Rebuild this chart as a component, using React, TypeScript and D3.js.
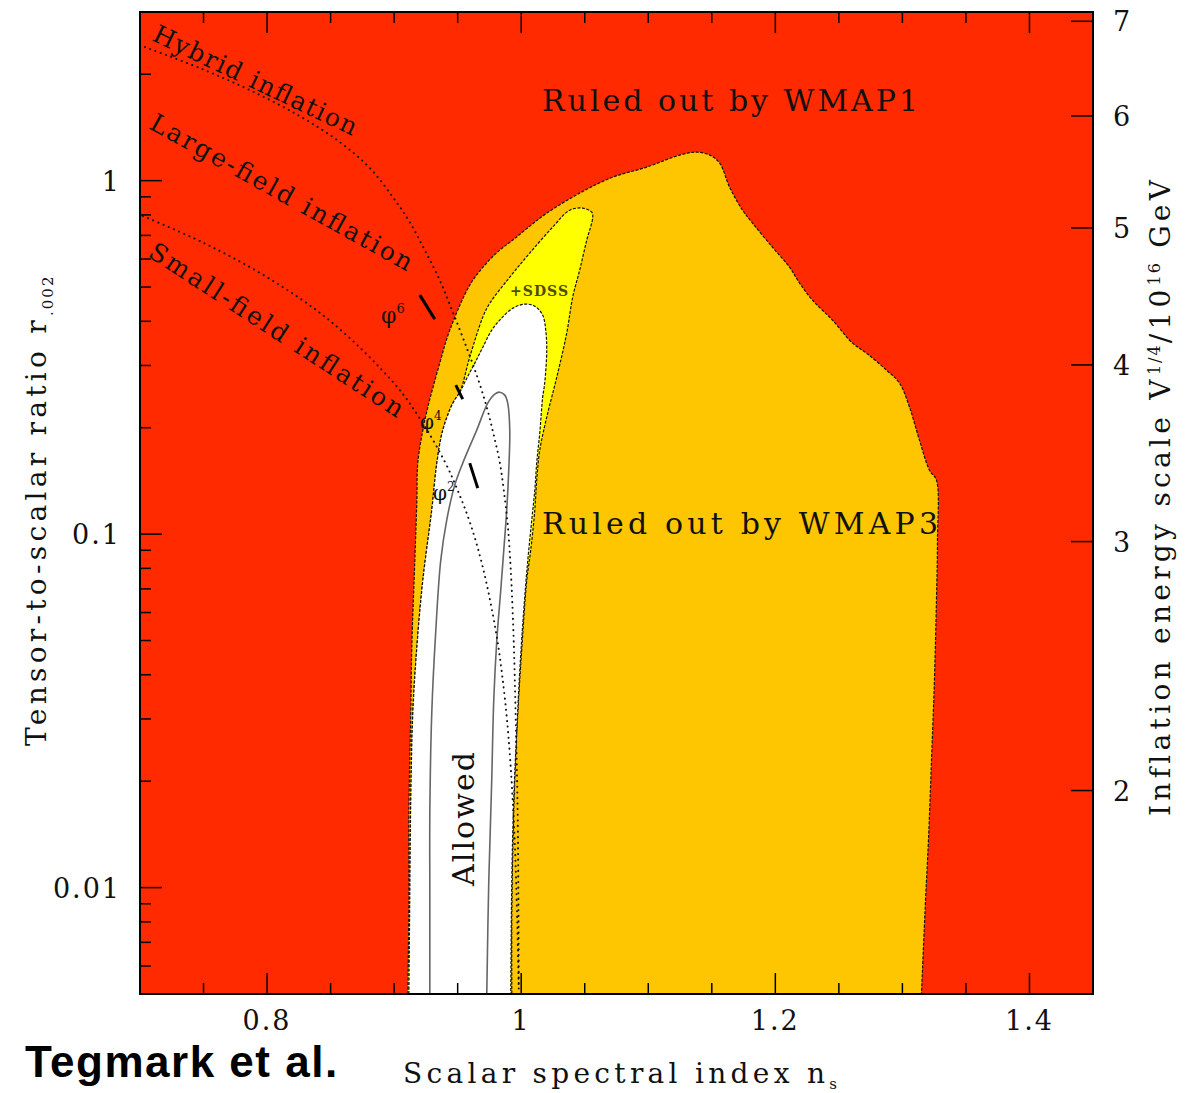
import React from 'react';
import * as d3 from 'd3';

// axis ticks
const nsMajor = [0.8, 1, 1.2, 1.4];
const nsMajorLabels = ['0.8', '1', '1.2', '1.4'];
const nsMinor = [0.75, 0.85, 0.9, 0.95, 1.05, 1.1, 1.15, 1.25, 1.3, 1.35];
const rMajor = [0.01, 0.1, 1];
const rMajorLabels = ['0.01', '0.1', '1'];
const rMinor = [0.006, 0.007, 0.008, 0.009, 0.02, 0.03, 0.04, 0.05, 0.06, 0.07, 0.08, 0.09,
  0.2, 0.3, 0.4, 0.5, 0.6, 0.7, 0.8, 0.9, 2];
const energyTicks = [2, 3, 4, 5, 6, 7];

// contours, [n_s, r]
const wmap1 = [
  [0.9108, 0.005], [0.9116, 0.0092], [0.9116, 0.0163], [0.9131, 0.0311], [0.9139, 0.0479],
  [0.9163, 0.0844], [0.9179, 0.1248], [0.9186, 0.1588], [0.9226, 0.1969], [0.9265, 0.2287],
  [0.9359, 0.3046], [0.9438, 0.3777], [0.9595, 0.5062], [0.9713, 0.5768], [0.9831, 0.636],
  [0.9934, 0.679], [1.0067, 0.7434], [1.0201, 0.809], [1.046, 0.922], [1.072, 1.023],
  [1.0987, 1.092], [1.1247, 1.181], [1.138, 1.204], [1.1484, 1.181], [1.1562, 1.121],
  [1.164, 0.9585], [1.1742, 0.825], [1.1821, 0.758], [1.1978, 0.648], [1.2112, 0.569],
  [1.2191, 0.5129], [1.2293, 0.459], [1.245, 0.403], [1.2608, 0.3469], [1.2718, 0.325],
  [1.2875, 0.291], [1.2977, 0.2675], [1.3056, 0.2287], [1.3134, 0.1845], [1.3213, 0.1517],
  [1.3268, 0.1421], [1.3276, 0.0962], [1.3268, 0.065], [1.3252, 0.0386], [1.3229, 0.0229],
  [1.3205, 0.0136], [1.3182, 0.0092], [1.315, 0.005],
];
const wmap3 = [
  [0.9116, 0.005], [0.9123, 0.0092], [0.9131, 0.0177], [0.9147, 0.0311], [0.9179, 0.0479],
  [0.9226, 0.0741], [0.9296, 0.1169], [0.9336, 0.1588], [0.9383, 0.1969], [0.9462, 0.2347],
  [0.9517, 0.2521], [0.9595, 0.3167], [0.9698, 0.411], [0.9753, 0.45], [0.991, 0.5333],
  [1.0067, 0.6236], [1.0248, 0.739], [1.0382, 0.825], [1.0484, 0.836], [1.0555, 0.8144],
  [1.0563, 0.788], [1.0516, 0.679], [1.046, 0.558], [1.0405, 0.468], [1.0358, 0.37],
  [1.028, 0.278], [1.0201, 0.2143], [1.0146, 0.1728], [1.0122, 0.1421], [1.0107, 0.1169],
  [1.0075, 0.0901], [1.0044, 0.0741], [1.0004, 0.047], [0.9973, 0.0311], [0.9949, 0.0201],
  [0.9934, 0.0128], [0.9926, 0.0081], [0.9926, 0.005],
];
const sdss = [
  [0.9116, 0.005], [0.9123, 0.0092], [0.9131, 0.0177], [0.9147, 0.0311], [0.9179, 0.0479],
  [0.9226, 0.0741], [0.9296, 0.1169], [0.9336, 0.1588], [0.9383, 0.1969], [0.9462, 0.2347],
  [0.9517, 0.2521], [0.9572, 0.2762], [0.9635, 0.3046], [0.9698, 0.338], [0.9768, 0.3777],
  [0.9831, 0.403], [0.9934, 0.4358], [1.0028, 0.4473], [1.0107, 0.4415], [1.0169, 0.4165],
  [1.0193, 0.3777], [1.0201, 0.3316], [1.0185, 0.2675], [1.0169, 0.244], [1.0146, 0.1931],
  [1.0122, 0.1588], [1.0107, 0.1332], [1.0083, 0.1096], [1.0052, 0.0844], [1.002, 0.061],
  [0.9989, 0.0412], [0.9965, 0.0279], [0.9941, 0.0177], [0.9926, 0.0105], [0.9918, 0.005],
];
const innerContour = [
  [0.9281, 0.005], [0.9281, 0.0092], [0.9281, 0.0163], [0.9296, 0.0311], [0.9328, 0.0535],
  [0.9367, 0.0844], [0.9414, 0.1096], [0.9477, 0.1376], [0.954, 0.1588], [0.965, 0.1969],
  [0.9737, 0.2347], [0.9792, 0.2489], [0.9831, 0.2521], [0.9871, 0.2473], [0.9894, 0.2347],
  [0.991, 0.1969], [0.9902, 0.1517], [0.9886, 0.1169], [0.9863, 0.0901], [0.9839, 0.0694],
  [0.9808, 0.0501], [0.9784, 0.0339], [0.9768, 0.0201], [0.9745, 0.0105], [0.9729, 0.005],
];

// model class boundaries
const hybridBoundary = [
  [0.7039, 2.386], [0.7472, 2.081], [0.7865, 1.803], [0.8258, 1.522], [0.8573, 1.285],
  [0.8809, 1.085], [0.899, 0.898], [0.9123, 0.763], [0.9241, 0.636], [0.9359, 0.523],
  [0.9462, 0.4246], [0.9572, 0.336], [0.9658, 0.2762], [0.9729, 0.2287], [0.9784, 0.1906],
  [0.9831, 0.1599], [0.9863, 0.1332], [0.9894, 0.106], [0.9918, 0.0791], [0.9941, 0.0501],
  [0.9957, 0.0298], [0.9973, 0.0155], [0.9981, 0.005],
];
const smallFieldBoundary = [
  [0.7024, 0.794], [0.75, 0.667], [0.8, 0.533], [0.85, 0.4], [0.9, 0.267], [0.92, 0.213],
  [0.94, 0.16], [0.95, 0.133], [0.96, 0.107], [0.97, 0.08], [0.98, 0.0533], [0.985, 0.04],
  [0.99, 0.0267], [0.995, 0.0133], [0.998, 0.0053],
];

// phi^p predictions
const phi6 = [[0.9202, 0.4744], [0.932, 0.4057]];
const phi4 = [[0.9485, 0.2639], [0.954, 0.2409]];
const phi2 = [[0.9595, 0.1588], [0.9658, 0.1349]];

const serif = "'DejaVu Serif', serif";

export default function App() {
  const left = 140, right = 1093, top = 12, bottom = 994;
  const x = d3.scaleLinear().domain([0.7, 1.45]).range([left, right]);
  const y = d3.scaleLog().domain([0.005, 3]).range([bottom, top]);
  // V^1/4 scales as r^1/4
  const eOf = (r: number) => 5.4 * Math.pow(r, 0.25);
  const yE = d3.scaleLog().domain([eOf(0.005), eOf(3)]).range([bottom, top]);

  const line = d3.line<number[]>()
    .x(d => x(d[0]))
    .y(d => y(d[1]))
    .curve(d3.curveCatmullRom.alpha(0.5));
  const seg = d3.line<number[]>().x(d => x(d[0])).y(d => y(d[1]));
  const closed = (pts: number[][]) => line(pts) + 'Z';

  const edge = {stroke: '#111', strokeWidth: 1.2, strokeDasharray: '3 1.5'};
  const dotted = {fill: 'none', stroke: '#111', strokeWidth: 2, strokeDasharray: '0.1 5.5', strokeLinecap: 'round' as const};

  return (
    <div style={{position: 'absolute', left: 0, top: 0}}>
      <svg width={1187} height={1093} style={{display: 'block', background: '#fff'}}>
        <defs>
          <clipPath id="plotClip">
            <rect x={left} y={top} width={right - left} height={bottom - top}/>
          </clipPath>
        </defs>

        <g clipPath="url(#plotClip)">
          <rect x={left} y={top} width={right - left} height={bottom - top} fill="#ff2a00"/>
          <path d={closed(wmap1)} fill="#fdc600" {...edge}/>
          <path d={closed(wmap3)} fill="#ffff00" {...edge}/>
          <path d={closed(sdss)} fill="#ffffff" {...edge}/>
          <path d={line(innerContour) || ''} fill="none" stroke="#666" strokeWidth={1.6}/>
          <path d={line(hybridBoundary) || ''} {...dotted}/>
          <path d={line(smallFieldBoundary) || ''} {...dotted}/>
          {[phi6, phi4, phi2].map((p, i) =>
            <path key={i} d={seg(p) || ''} stroke="#000" strokeWidth={3}/>)}
        </g>

        {/* region labels */}
        <g fontFamily={serif} fill="#111">
          <text x={542} y={111} fontSize={30} textLength={376}>Ruled out by WMAP1</text>
          <text x={542} y={534} fontSize={30} textLength={396}>Ruled out by WMAP3</text>
          <text transform="translate(474,886) rotate(-90)" fontSize={30} textLength={134}>Allowed</text>
          <text x={510} y={296} fontSize={14} fontWeight="bold" fill="#4d4d00" textLength={58}>+SDSS</text>
          <text transform="translate(151,40) rotate(25.5)" fontSize={25} textLength={223}>Hybrid inflation</text>
          <text transform="translate(148,128) rotate(29)" fontSize={25} textLength={296}>Large-field inflation</text>
          <text transform="translate(147,256) rotate(33)" fontSize={25} textLength={298}>Small-field inflation</text>
          <text x={381} y={323} fontSize={22}>φ<tspan fontSize={13} dy={-10}>6</tspan></text>
          <text x={420} y={429} fontSize={20}>φ<tspan fontSize={12} dy={-9}>4</tspan></text>
          <text x={433} y={500} fontSize={20}>φ<tspan fontSize={12} dy={-9}>2</tspan></text>
        </g>

        {/* ticks */}
        <g stroke="#000" strokeWidth={1.5}>
          {nsMajor.map(v => <g key={'M' + v}>
            <line x1={x(v)} x2={x(v)} y1={bottom} y2={bottom - 21}/>
            <line x1={x(v)} x2={x(v)} y1={top} y2={top + 21}/>
          </g>)}
          {nsMinor.map(v => <g key={'m' + v}>
            <line x1={x(v)} x2={x(v)} y1={bottom} y2={bottom - 11}/>
            <line x1={x(v)} x2={x(v)} y1={top} y2={top + 11}/>
          </g>)}
          {rMajor.map(v => <line key={'R' + v} x1={left} x2={left + 22} y1={y(v)} y2={y(v)}/>)}
          {rMinor.map(v => <line key={'r' + v} x1={left} x2={left + 11} y1={y(v)} y2={y(v)}/>)}
          {energyTicks.map(v => <line key={'e' + v} x1={right} x2={right - 22} y1={yE(v)} y2={yE(v)}/>)}
        </g>
        <rect x={left} y={top} width={right - left} height={bottom - top} fill="none" stroke="#000" strokeWidth={2}/>

        {/* tick labels */}
        <g fontFamily={serif} fontSize={27} fill="#111" letterSpacing={2}>
          {nsMajor.map((v, i) =>
            <text key={v} x={x(v)} y={1030} textAnchor="middle">{nsMajorLabels[i]}</text>)}
          {rMajor.map((v, i) =>
            <text key={v} x={121} y={y(v) + 10} textAnchor="end">{rMajorLabels[i]}</text>)}
          {energyTicks.map(v =>
            <text key={v} x={1113} y={yE(v) + 10}>{v}</text>)}
        </g>

        {/* axis titles */}
        <g fontFamily={serif} fontSize={28} fill="#111" letterSpacing={4.3}>
          <text x={403} y={1083}>Scalar spectral index n<tspan fontSize={15} dy={6}>s</tspan></text>
          <text transform="translate(46,746) rotate(-90)">
            Tensor-to-scalar ratio r<tspan fontSize={15} dy={7} letterSpacing={2}>.002</tspan>
          </text>
          <text transform="translate(1170,816) rotate(-90)">
            Inflation energy scale V<tspan fontSize={16} dy={-10} letterSpacing={2}>1/4</tspan>
            <tspan dy={10}>/10</tspan><tspan fontSize={16} dy={-10} letterSpacing={2}>16</tspan>
            <tspan dy={10}> GeV</tspan>
          </text>
        </g>

        <text x={25} y={1077} fontFamily="'Liberation Sans', Arial, sans-serif" fontWeight="bold"
              fontSize={44} letterSpacing={1.5} fill="#000">Tegmark et al.</text>
      </svg>
    </div>
  );
}
